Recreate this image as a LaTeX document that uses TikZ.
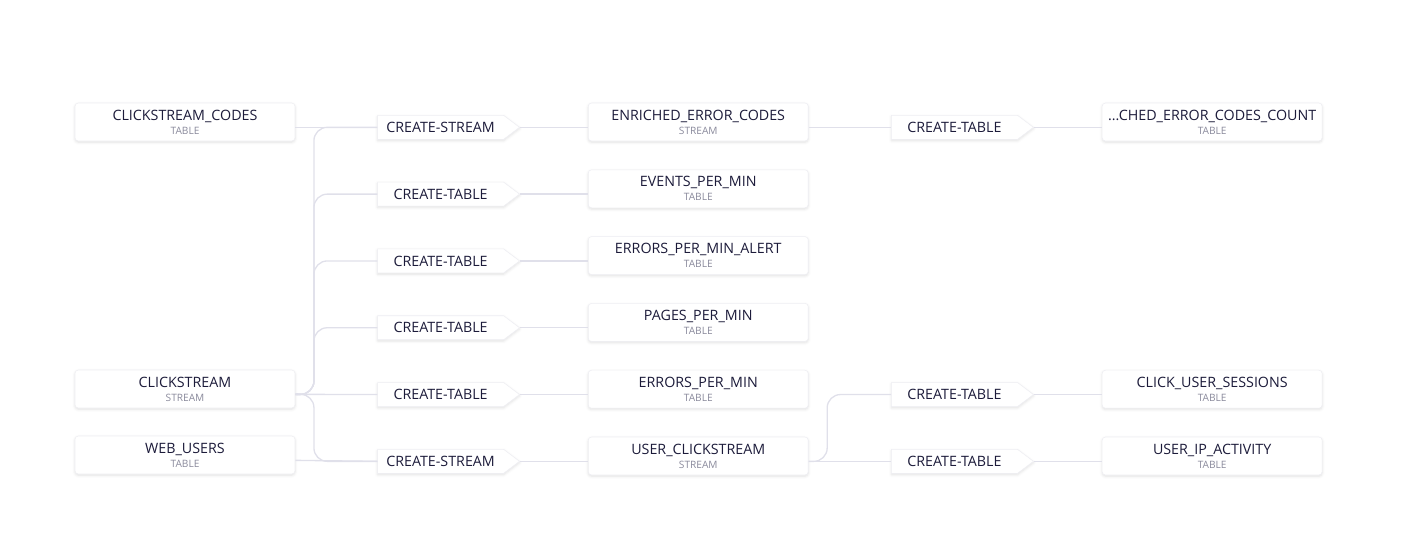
\documentclass[tikz,border=0pt]{standalone}
\usepackage{fontspec}
\setmainfont{Open Sans}
\usetikzlibrary{positioning,shapes.symbols,shadows.blur}
\definecolor{flowtext}{HTML}{1C1B3A}
\definecolor{flowsub}{HTML}{8A8A9C}
\definecolor{flowedge}{HTML}{E0E0EA}
\definecolor{flowline}{HTML}{EEEEF3}
\newcommand{\tbltext}[2]{#1\\[-1.5pt]{\fontsize{7.6}{8}\selectfont\color{flowsub}#2}}

\begin{document}
\begin{tikzpicture}[
  x=0.75pt, y=-0.75pt,
  font=\fontsize{10.7}{12}\selectfont,
  tbl/.style={draw=flowline, fill=white, rounded corners=2.5pt, align=center, inner sep=0pt,
              minimum width=165pt, minimum height=28.5pt, text=flowtext,
              blur shadow={shadow xshift=0pt, shadow yshift=-1pt, shadow opacity=12, shadow blur radius=2pt}},
  proc/.style={signal, signal to=east, signal pointer angle=74, draw=flowline, fill=white,
               inner sep=0pt, minimum width=106.5pt, minimum height=18pt, text=flowtext,
               blur shadow={shadow xshift=0pt, shadow yshift=-1pt, shadow opacity=12, shadow blur radius=2pt}},
  edge/.style={draw=flowedge, line width=1pt},
  curvededge/.style={edge, rounded corners=10pt},
  node distance=31.7pt
]
\useasboundingbox (0,0) rectangle (1408,540);
% ----- sources, left column -----
\node[tbl] (codes) at (185,122) {\tbltext{CLICKSTREAM\_CODES}{TABLE}};
\node[tbl] (cs) at (185,389) {\tbltext{CLICKSTREAM}{STREAM}};
\node[tbl] (web) at (185,455) {\tbltext{WEB\_USERS}{TABLE}};
% ----- first statements -----
\node[proc, right=61.5pt of codes, yshift=-4pt] (p1) {CREATE-STREAM};
\node[proc, below=of p1] (p2) {CREATE-TABLE};
\node[proc, below=of p2] (p3) {CREATE-TABLE};
\node[proc, below=of p3] (p4) {CREATE-TABLE};
\node[proc, below=of p4] (p5) {CREATE-TABLE};
\node[proc, below=of p5] (p6) {CREATE-STREAM};
% ----- derived streams and tables -----
\node[tbl, right=51pt of p1, yshift=4pt] (enr) {\tbltext{ENRICHED\_ERROR\_CODES}{STREAM}};
\node[tbl, right=51pt of p2, yshift=4pt] (epm) {\tbltext{EVENTS\_PER\_MIN}{TABLE}};
\node[tbl, right=51pt of p3, yshift=4pt] (alert) {\tbltext{ERRORS\_PER\_MIN\_ALERT}{TABLE}};
\node[tbl, right=51pt of p4, yshift=4pt] (ppm) {\tbltext{PAGES\_PER\_MIN}{TABLE}};
\node[tbl, right=51pt of p5, yshift=4pt] (erpm) {\tbltext{ERRORS\_PER\_MIN}{TABLE}};
\node[tbl, right=51pt of p6, yshift=4pt] (ucs) {\tbltext{USER\_CLICKSTREAM}{STREAM}};
% ----- second statements -----
\node[proc, right=62pt of enr, yshift=-4pt] (q1) {CREATE-TABLE};
\node[proc, right=62pt of erpm, yshift=-4pt] (q5) {CREATE-TABLE};
\node[proc, right=62pt of ucs, yshift=-4pt] (q6) {CREATE-TABLE};
% ----- sinks, right column -----
\node[tbl, right=51pt of q1, yshift=4pt] (cnt) {\tbltext{...CHED\_ERROR\_CODES\_COUNT}{TABLE}};
\node[tbl, right=51pt of q5, yshift=4pt] (sess) {\tbltext{CLICK\_USER\_SESSIONS}{TABLE}};
\node[tbl, right=51pt of q6, yshift=4pt] (ipact) {\tbltext{USER\_IP\_ACTIVITY}{TABLE}};
% ----- connectors -----
\draw[edge] ([yshift=-4pt]codes.east) -- (p1.west);
\draw[edge] ([yshift=-4pt]web.east) -- (p6.west);
\draw[edge] ([yshift=-4pt]cs.east) -- (p5.west);
\foreach \p in {p1,p2,p3,p4,p6}{\draw[curvededge] ([yshift=-4pt]cs.east) -- ++(14pt,0) |- (\p.west);}
\foreach \a/\b in {p1/enr, p2/epm, p3/alert, p4/ppm, p5/erpm, p6/ucs, q1/cnt, q5/sess, q6/ipact}{\draw[edge] (\a.east) -- ([yshift=-4pt]\b.west);}
\draw[edge] ([yshift=-4pt]enr.east) -- (q1.west);
\draw[edge] ([yshift=-4pt]ucs.east) -- (q6.west);
\draw[curvededge] ([yshift=-4pt]ucs.east) -- ++(14pt,0) |- (q5.west);
\end{tikzpicture}
\end{document}
